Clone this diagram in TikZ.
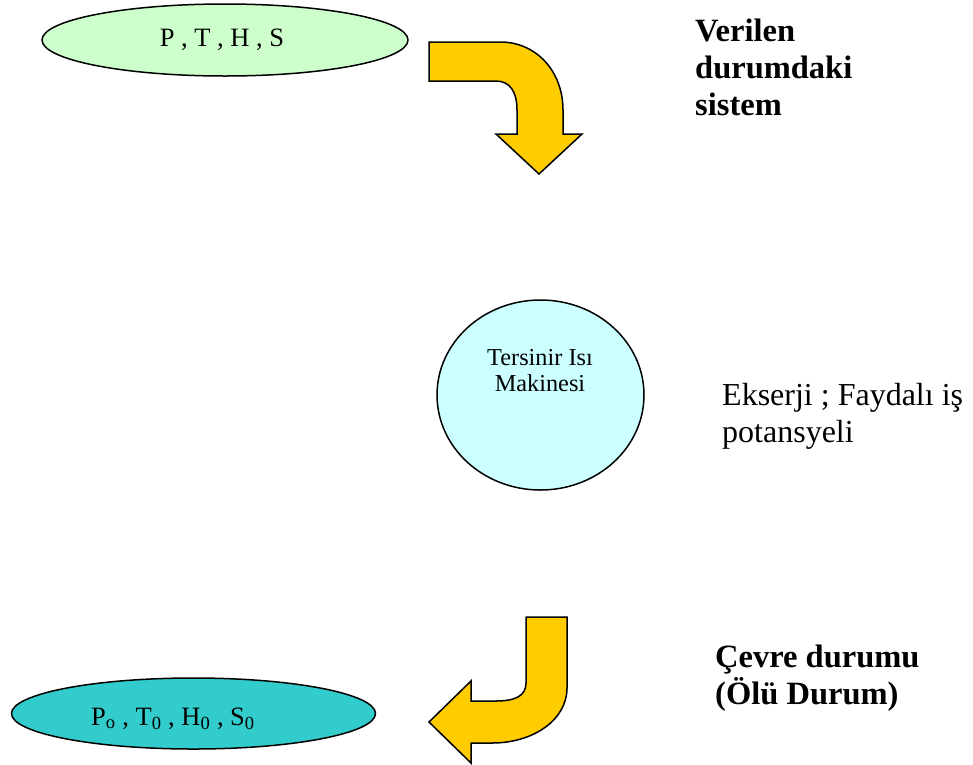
\documentclass[tikz,border=0pt]{standalone}
\usepackage{fontspec}
\setmainfont{Liberation Serif}
\usetikzlibrary{shapes.geometric}

\definecolor{arrowyellow}{HTML}{FFCC00}
\definecolor{givenfill}{HTML}{CCFFCC}
\definecolor{enginefill}{HTML}{CCFFFF}
\definecolor{deadfill}{HTML}{33CCCC}

\tikzset{
  state/.style={ellipse, draw=black, line width=1.5pt, inner sep=0pt},
  bentarrow/.style={fill=arrowyellow, draw=black, line width=1.5pt, line join=miter},
  label/.style={inner sep=0pt, anchor=north west, align=left},
  boldlabel/.style={label, font=\bfseries\fontsize{32.5}{37}\selectfont},
  plainlabel/.style={label, font=\fontsize{32}{37}\selectfont},
  statetext/.style={inner sep=0pt, font=\fontsize{26.5}{26}\selectfont},
}

\begin{document}
\begin{tikzpicture}[x=1pt, y=-1pt]
  \useasboundingbox (0,0) rectangle (973,764);

  % the three states
  \node[state, fill=givenfill, minimum width=366pt, minimum height=72pt] (given) at (225,40) {};
  \node[statetext] (giventext) at (222,40) {P , T , H , S};

  \node[state, fill=enginefill, minimum width=207pt, minimum height=190pt] (engine) at (540.5,395) {};
  \node[statetext, align=center, font=\fontsize{24.3}{26}\selectfont] (enginetext) at (540,371) {Tersinir Isı\\Makinesi};

  \node[state, fill=deadfill, minimum width=364pt, minimum height=71pt] (dead) at (193.5,713.5) {};
  \node[statetext] (deadtext) at (173,718.5) {P\textsubscript{o} , T\textsubscript{0} , H\textsubscript{0} , S\textsubscript{0}};

  % bent block arrows
  \draw[bentarrow] (429,42) -- (500,42)
    .. controls (537,42) and (563,72) .. (563,110)
    -- (563,134) -- (582,134) -- (539,174) -- (496,134) -- (517,134) -- (517,110)
    .. controls (517,92) and (510,81) .. (496,81)
    -- (429,81) -- cycle;

  \draw[bentarrow] (526,617) -- (567,617) -- (567,688)
    .. controls (567,720) and (533,743) .. (492,743)
    -- (471,743) -- (471,763) -- (429,722) -- (471,681) -- (471,701) -- (496,701)
    .. controls (515,701) and (526,696) .. (526,683)
    -- cycle;

  % side captions
  \node[boldlabel] (givencap) at (695,19) {Verilen\\durumdaki\\sistem};
  \node[plainlabel] (exergy) at (722,383) {Ekserji ; Faydalı iş\\potansyeli};
  \node[boldlabel] (deadcap) at (715,645) {Çevre durumu\\(Ölü Durum)};
\end{tikzpicture}
\end{document}
